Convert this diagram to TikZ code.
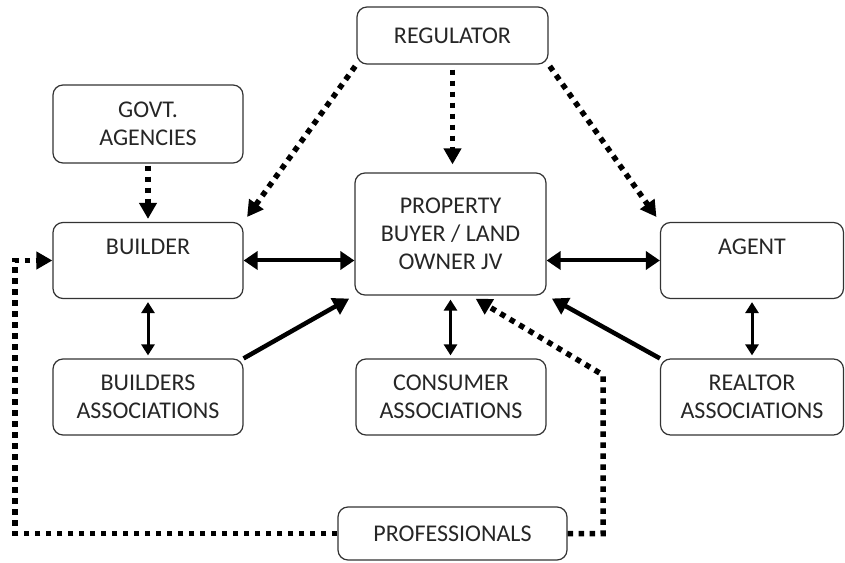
\documentclass[tikz,border=0pt]{standalone}
\usepackage{fontspec}
\setmainfont{Carlito}
\usetikzlibrary{arrows.meta}

\tikzset{
  box/.style={draw=black!80,line width=1.2pt,rectangle,rounded corners=10pt,align=center,
    minimum width=190pt,minimum height=76pt,inner sep=2pt,text=black!85,
    font=\fontsize{24}{28}\selectfont},
  topbox/.style={box,text depth=27pt},
  wide/.style={line width=4pt,{Triangle[length=14pt,width=18pt]}-{Triangle[length=14pt,width=18pt]}},
  tall/.style={line width=3pt,{Triangle[length=11pt,width=13pt]}-{Triangle[length=11pt,width=13pt]}},
  link/.style={line width=4.5pt,-{Triangle[length=16pt,width=18pt]}},
  dots/.style={line width=5.5pt,dash pattern=on 5.5pt off 5.5pt,-{Triangle[length=16pt,width=17pt]}}
}

\begin{document}
\begin{tikzpicture}[x=1pt,y=1pt]
\useasboundingbox (0,0) rectangle (845,562);
\node [box,minimum width=191pt,minimum height=57pt] (reg) at (452.5,526.5) {REGULATOR};
\node [box,minimum height=78pt] (govt) at (148,438) {GOVT.\\AGENCIES};
\node [topbox] (bld) at (148,301.5) {BUILDER};
\node [box,minimum width=191pt,minimum height=122pt] (prop) at (450.5,328) {PROPERTY\\BUYER / LAND\\OWNER JV};
\node [topbox,minimum width=183pt] (agt) at (752,301.5) {AGENT};
\node [box] (bas) at (148,165) {BUILDERS\\ASSOCIATIONS};
\node [box] (cas) at (451,165) {CONSUMER\\ASSOCIATIONS};
\node [box,minimum width=183pt] (ras) at (752,165) {REALTOR\\ASSOCIATIONS};
\node [box,minimum width=229pt,minimum height=53pt] (prof) at (452.5,28.5) {PROFESSIONALS};
\coordinate (pr) at (603,187);
\coordinate (pl) at (15,301.5);

% regulator and govt
\draw [dots,shorten <=2pt,shorten >=6pt] (reg.south west) -- (bld.north east);
\draw [dots,shorten <=5pt,shorten >=8pt] (reg.south) -- (reg.south |- prop.north);
\draw [dots,shorten <=2pt,shorten >=6pt] (reg.south east) -- (agt.north west);
\draw [dots,shorten <=2pt,shorten >=3pt] (govt) -- (bld);

% professionals
\draw [dots,shorten >=6pt] (prof.east) -| (pr) -- ([xshift=20pt]prop.south);
\draw [dots] (prof.west) -| (pl) -- (bld.west);

\draw [wide] (bld.east) -- (bld.east -| prop.west);
\draw [wide] (agt.west -| prop.east) -- (agt.west);
\draw [tall,shorten <=3pt,shorten >=3pt] (bld) -- (bas);
\draw [tall,shorten <=4pt,shorten >=3pt] (prop.south) -- (prop.south |- cas.north);
\draw [tall,shorten <=3pt,shorten >=3pt] (agt) -- (ras);
\draw [link,shorten >=6pt] (bas.north east) -- (prop.south west);
\draw [link,shorten >=6pt] (ras.north west) -- (prop.south east);
\end{tikzpicture}
\end{document}
